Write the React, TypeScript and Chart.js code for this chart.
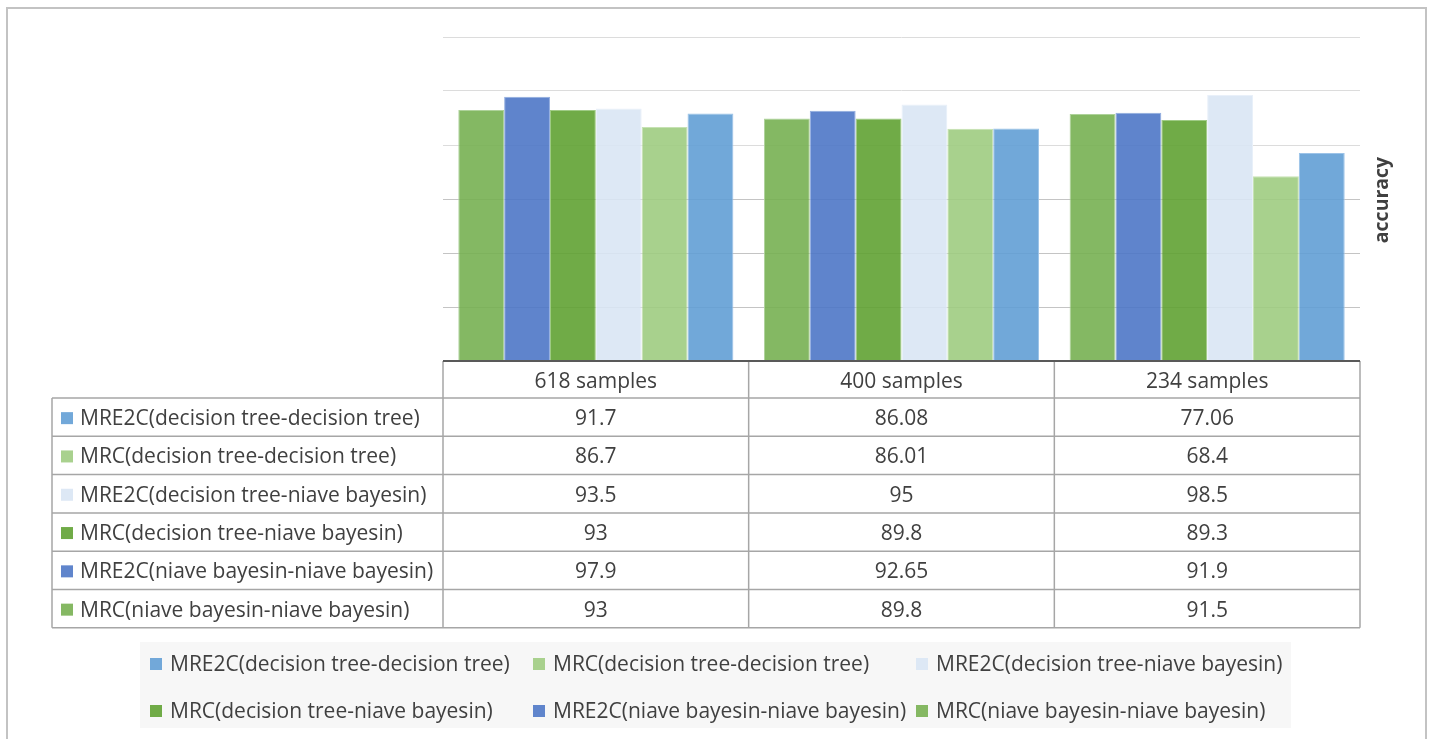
import React, { useEffect, useRef } from "react";
import { Chart, registerables } from "chart.js";

Chart.register(...registerables);

const categories = ["618 samples", "400 samples", "234 samples"];

// table order (top to bottom)
const seriesNames = [
  "MRE2C(decision tree-decision tree)",
  "MRC(decision tree-decision tree)",
  "MRE2C(decision tree-niave bayesin)",
  "MRC(decision tree-niave bayesin)",
  "MRE2C(niave bayesin-niave bayesin)",
  "MRC(niave bayesin-niave bayesin)",
];
const mre2cDtDt = [91.7, 86.08, 77.06];
const mrcDtDt = [86.7, 86.01, 68.4];
const mre2cDtNb = [93.5, 95, 98.5];
const mrcDtNb = [93, 89.8, 89.3];
const mre2cNbNb = [97.9, 92.65, 91.9];
const mrcNbNb = [93, 89.8, 91.5];
const seriesValues = [mre2cDtDt, mrcDtDt, mre2cDtNb, mrcDtNb, mre2cNbNb, mrcNbNb];
const seriesFill = [
  "rgba(98,158,213,0.9)",
  "rgba(159,204,129,0.9)",
  "rgba(217,229,244,0.9)",
  "rgba(96,162,51,0.9)",
  "rgba(78,119,198,0.9)",
  "rgba(119,176,82,0.9)",
];
const seriesSwatch = ["#72a8d9", "#a9d18e", "#dde8f5", "#70ab47", "#6085cc", "#85b863"];
const seriesBorder = ["#9cc3e8", "#c6e2b3", "#e9f0f9", "#9fcb85", "#93aee0", "#aed29a"];
const yTicks = [0, 20, 40, 60, 80, 100, 120];
const axisTitle = "accuracy";

const FONT = '"Open Sans", "Noto Sans", sans-serif';
const TEXT = "#404040";

const tablePlugin = {
  id: "tableAndLegend",
  afterDraw(chart: any) {
    const ctx = chart.ctx as CanvasRenderingContext2D;
    const ca = chart.chartArea;
    const n = categories.length;
    const colW = (ca.right - ca.left) / n;
    const tableLeft = 52;
    const headerTop = ca.bottom;
    const rowsTop = 398;
    const rowH = 38.3;
    const tableBottom = rowsTop + rowH * seriesNames.length;

    ctx.save();
    // table grid
    ctx.strokeStyle = "#a6a6a6";
    ctx.lineWidth = 1.5;
    ctx.beginPath();
    for (let i = 0; i <= n; i++) {
      const x = ca.left + colW * i;
      ctx.moveTo(x, headerTop);
      ctx.lineTo(x, tableBottom);
    }
    ctx.moveTo(tableLeft, rowsTop);
    ctx.lineTo(tableLeft, tableBottom);
    for (let r = 0; r <= seriesNames.length; r++) {
      const y = rowsTop + rowH * r;
      ctx.moveTo(tableLeft, y);
      ctx.lineTo(ca.right, y);
    }
    ctx.stroke();

    // baseline
    ctx.strokeStyle = "#595959";
    ctx.lineWidth = 2;
    ctx.beginPath();
    ctx.moveTo(ca.left, ca.bottom);
    ctx.lineTo(ca.right, ca.bottom);
    ctx.stroke();

    ctx.fillStyle = TEXT;
    ctx.font = `21px ${FONT}`;
    ctx.textBaseline = "middle";
    ctx.textAlign = "center";
    for (let i = 0; i < n; i++) {
      const cx = ca.left + colW * (i + 0.5);
      ctx.fillText(categories[i], cx, (headerTop + rowsTop) / 2 + 2.5);
      for (let r = 0; r < seriesNames.length; r++) {
        ctx.fillText(String(seriesValues[r][i]), cx, rowsTop + rowH * (r + 0.5) + 2);
      }
    }
    ctx.textAlign = "left";
    for (let r = 0; r < seriesNames.length; r++) {
      const cy = rowsTop + rowH * (r + 0.5);
      ctx.fillStyle = seriesSwatch[r];
      ctx.fillRect(61, cy - 5, 12, 12);
      ctx.fillStyle = TEXT;
      ctx.fillText(seriesNames[r], 80, cy + 2);
    }

    // legend
    ctx.fillStyle = "#f7f7f7";
    ctx.fillRect(140, 642, 1151, 86);
    const legCols = [170, 553, 936];
    const legRows = [663, 710];
    for (let k = 0; k < seriesNames.length; k++) {
      const x = legCols[k % 3];
      const y = legRows[Math.floor(k / 3)];
      ctx.fillStyle = seriesSwatch[k];
      ctx.fillRect(x - 20, y - 5, 12, 12);
      ctx.fillStyle = TEXT;
      ctx.fillText(seriesNames[k], x, y + 2);
    }

    // axis title
    ctx.save();
    ctx.translate(1382, 200);
    ctx.rotate(-Math.PI / 2);
    ctx.textAlign = "center";
    ctx.font = `bold 19.5px ${FONT}`;
    ctx.fillStyle = TEXT;
    ctx.fillText(axisTitle, 0, 0);
    ctx.restore();

    // outer border
    ctx.strokeStyle = "#c3c3c3";
    ctx.lineWidth = 2;
    ctx.strokeRect(7, 8, 1419, 760);
    ctx.restore();
  },
};

export default function App() {
  const ref = useRef<HTMLCanvasElement | null>(null);
  useEffect(() => {
    if (!ref.current) return;
    const order = [5, 4, 3, 2, 1, 0];
    const chart = new Chart(ref.current, {
      type: "bar",
      data: {
        labels: categories,
        datasets: order.map((r) => ({
          label: seriesNames[r],
          data: seriesValues[r],
          backgroundColor: seriesFill[r],
          borderColor: seriesBorder[r],
          borderWidth: 1,
          categoryPercentage: 0.9,
          barPercentage: 1.0,
        })),
      },
      options: {
        animation: false,
        responsive: false,
        layout: { padding: { left: 443, right: 69, top: 37, bottom: 378 } },
        plugins: { legend: { display: false }, tooltip: { enabled: false } },
        scales: {
          x: { display: false },
          y: {
            display: true,
            min: 0,
            max: 120,
            afterBuildTicks: (s: any) => {
              s.ticks = yTicks.map((v) => ({ value: v }));
            },
            ticks: { display: false },
            border: { display: false },
            grid: {
              drawTicks: false,
              lineWidth: 1,
              color: (c: any) => (c.tick && c.tick.value >= 80 ? "#dcdcdc" : "#c4c4c4"),
            },
          },
        },
      },
      plugins: [tablePlugin],
    });
    return () => chart.destroy();
  }, []);
  return (
    <div style={{ position: "absolute", left: 0, top: 0, width: 1429, height: 739, background: "#fff" }}>
      <canvas ref={ref} width={1429} height={739} />
    </div>
  );
}
